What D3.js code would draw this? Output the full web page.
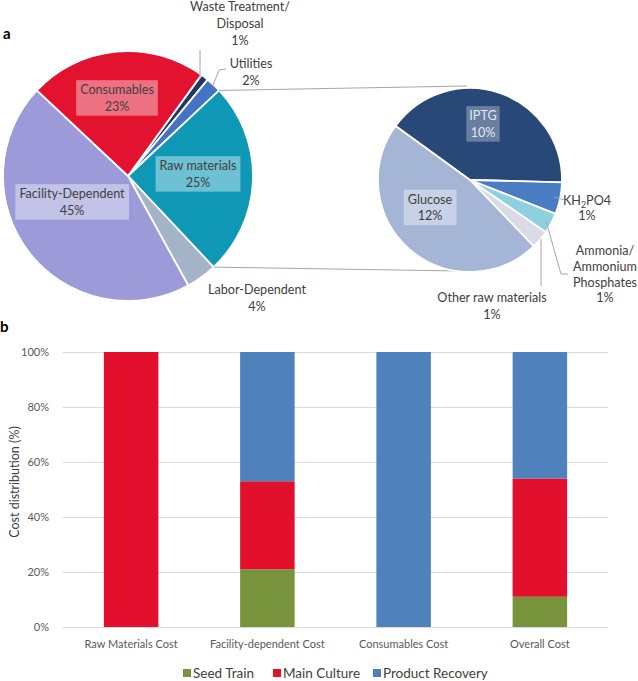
<!DOCTYPE html>
<html>
<head>
<meta charset="utf-8">
<script src="https://cdn.jsdelivr.net/npm/d3@7"></script>
<style>
  html, body { margin: 0; padding: 0; background: #fff; }
  svg { display: block; }
  text { font-family: Lato, "Open Sans", sans-serif; }
</style>
</head>
<body>
<svg id="chart" width="638" height="681"></svg>
<script>
// ---------- DATA ----------
// Panel a: main pie (clockwise order)
const pieCategories = ["Waste Treatment/Disposal", "Utilities", "Raw materials", "Labor-Dependent", "Facility-Dependent", "Consumables"];
const pieValues = [1, 2, 25, 4, 45, 23];
const pieColors = ["#203864", "#4472C4", "#0E98B5", "#A3B4C8", "#9C9AD8", "#E3132F"];

// Panel a: raw-materials breakdown pie (clockwise order, % of total cost)
const rawCategories = ["IPTG", "KH₂PO4", "Ammonia/Ammonium Phosphates", "Other raw materials", "Glucose"];
const rawValues = [10.1, 1.4, 0.9, 0.8, 11.8];
const rawColors = ["#284878", "#4A7CC4", "#8ED0E0", "#D9D9E8", "#A4B5D5"];

// Panel b: stacked bars
const barCategories = ["Raw Materials Cost", "Facility-dependent Cost", "Consumables Cost", "Overall Cost"];
const seriesNames = ["Seed Train", "Main Culture", "Product Recovery"];
const seedTrain = [0, 21, 0, 11];
const mainCulture = [100, 32, 0, 43];
const productRecovery = [0, 47, 100, 46];
const seriesColors = ["#77933C", "#E3102D", "#4F81BD"];
const yTicks = [0, 20, 40, 60, 80, 100];

// ---------- DRAW ----------
const svg = d3.select("#chart");
const txtColor = "#404040";
const lineColor = "#A6A6A6";
const LFS = 12.6;

// panel letters
svg.append("text").attr("x", 3).attr("y", 39).text("a")
  .attr("font-family", "Arial, Liberation Sans, sans-serif").attr("font-weight", "bold").attr("font-size", 15).attr("fill", "#000");
svg.append("text").attr("x", 0).attr("y", 332).text("b")
  .attr("font-family", "Arial, Liberation Sans, sans-serif").attr("font-weight", "bold").attr("font-size", 15).attr("fill", "#000");

// main pie
const deg = Math.PI / 180;
const mainC = [128, 176], mainR = 125;
const mainPie = d3.pie().sort(null).value(d => d)
  .startAngle(36 * deg).endAngle(396 * deg);
const mainArcs = mainPie(pieValues);
const mainArc = d3.arc().innerRadius(0).outerRadius(mainR);
const gMain = svg.append("g").attr("transform", `translate(${mainC})`);

// connector lines (pie-of-pie) from the raw materials slice edges
const rawC = [470, 180], rawR = 92;
const rawSlice = mainArcs[2];
const pOnArc = (c, r, a) => [c[0] + r * Math.sin(a), c[1] - r * Math.cos(a)];
const pA = pOnArc(mainC, mainR, rawSlice.startAngle);
const pB = pOnArc(mainC, mainR, rawSlice.endAngle);
svg.append("line").attr("x1", pA[0]).attr("y1", pA[1]).attr("x2", rawC[0] - 3).attr("y2", rawC[1] - rawR - 2)
  .attr("stroke", lineColor).attr("stroke-width", 1);
svg.append("line").attr("x1", pB[0]).attr("y1", pB[1]).attr("x2", rawC[0] - 10).attr("y2", rawC[1] + rawR - 1)
  .attr("stroke", lineColor).attr("stroke-width", 1);

gMain.selectAll("path").data(mainArcs).join("path")
  .attr("d", mainArc)
  .attr("fill", (d, i) => pieColors[i])
  .attr("stroke", "#fff").attr("stroke-width", 1.8).attr("stroke-linejoin", "round");

// raw pie
const rawPie = d3.pie().sort(null).value(d => d)
  .startAngle(-54 * deg).endAngle(306 * deg);
const rawArcs = rawPie(rawValues);
const rawArc = d3.arc().innerRadius(0).outerRadius(rawR);
const gRaw = svg.append("g").attr("transform", `translate(${rawC})`);
gRaw.selectAll("path").data(rawArcs).join("path")
  .attr("d", rawArc)
  .attr("fill", (d, i) => rawColors[i])
  .attr("stroke", "#fff").attr("stroke-width", 1.8).attr("stroke-linejoin", "round");

// label helper
function label(lines, x, y, opts = {}) {
  const fs = opts.fs || LFS, lh = opts.lh || 16.5;
  const g = svg.append("g");
  const t = g.append("text").attr("text-anchor", "middle").attr("font-size", fs)
    .attr("fill", opts.color || txtColor);
  const n = lines.length;
  lines.forEach((ln, i) => {
    const ts = t.append("tspan").attr("x", x).attr("y", y + (i - (n - 1) / 2) * lh).attr("dy", "0.35em");
    if (typeof ln === "string") ts.text(ln);
    else ln.forEach(part => {
      const s = ts.append("tspan").text(part.t);
      if (part.sub) s.attr("font-size", fs * 0.7).attr("dy", 3);
      if (part.after) s.attr("dy", -3);
    });
  });
  if (opts.box) {
    const bb = t.node().getBBox();
    g.insert("rect", "text")
      .attr("x", bb.x - (opts.px || 4)).attr("y", bb.y - 2)
      .attr("width", bb.width + 2 * (opts.px || 4)).attr("height", bb.height + 4)
      .attr("fill", "#fff").attr("fill-opacity", opts.op || 0.4);
  }
  return g;
}
const pct = v => Math.round(v) + "%";

// main pie labels
label([pieCategories[5], pct(pieValues[5])], 117, 98, { box: true, px: 4 });
label([pieCategories[2], pct(pieValues[2])], 198, 174, { box: true, px: 4 });
label([pieCategories[4], pct(pieValues[4])], 72, 202, { box: true, px: 4 });
label(["Waste Treatment/", "Disposal", pct(pieValues[0])], 240, 24, { lh: 17 });
label([pieCategories[1], pct(pieValues[1])], 251, 72, { lh: 17.5 });
label([pieCategories[3], pct(pieValues[3])], 257, 298.5, { lh: 17 });

// leader lines main pie
const leader = pts => svg.append("polyline").attr("points", pts.map(p => p.join(",")).join(" "))
  .attr("fill", "none").attr("stroke", lineColor).attr("stroke-width", 1);
const wMid = pOnArc(mainC, mainR - 2, (mainArcs[0].startAngle + mainArcs[0].endAngle) / 2);
leader([[200, 50], [200, wMid[1]]]);
const uMid = pOnArc(mainC, mainR - 1, (mainArcs[1].startAngle + mainArcs[1].endAngle) / 2);
leader([[226, 69], [219, 70], uMid]);

// raw pie labels
label([rawCategories[0], pct(rawValues[0])], 483, 124, { box: true, px: 3, op: 0.3, color: "#E4E9F2" });
label([rawCategories[4], pct(rawValues[4])], 430, 207.5, { box: true, px: 4, op: 0.4 });
label([[{ t: "KH" }, { t: "2", sub: true }, { t: "PO4", after: true }], pct(rawValues[1])], 587, 208, { lh: 15.5 });
label(["Ammonia/", "Ammonium", "Phosphates", pct(rawValues[2])], 605, 274.5, { lh: 15.7 });
label([rawCategories[3], pct(rawValues[3])], 492, 306, { lh: 17.5 });

// raw pie leaders
const kMid = pOnArc(rawC, rawR - 6, (rawArcs[1].startAngle + rawArcs[1].endAngle) / 2);
leader([kMid, [565, 200]]);
const aMid = pOnArc(rawC, rawR - 6, (rawArcs[2].startAngle + rawArcs[2].endAngle) / 2);
leader([aMid, [561, 274], [568, 274]]);
leader([[541, 239], [541, 286]]);

// ---------- Panel b ----------
const x = d3.scaleBand().domain(barCategories).range([63, 608]).paddingInner(0.6).paddingOuter(0.3);
const y = d3.scaleLinear().domain([0, 100]).range([627, 352]);

const gridG = svg.append("g");
gridG.selectAll("line").data(yTicks).join("line")
  .attr("x1", 63).attr("x2", 608)
  .attr("y1", d => Math.round(y(d)) + 0.5).attr("y2", d => Math.round(y(d)) + 0.5)
  .attr("stroke", "#D9D9D9").attr("stroke-width", 1);

const yAxis = d3.axisLeft(y).tickValues(yTicks).tickFormat(d => d + "%").tickSize(0).tickPadding(0);
const yAx = svg.append("g").attr("transform", "translate(49,0)").call(yAxis);
yAx.select(".domain").remove();
yAx.selectAll("text").attr("font-family", "Lato, sans-serif").attr("font-size", 11).attr("fill", "#595959");

const stackData = barCategories.map((c, i) => ({ cat: c, "Seed Train": seedTrain[i], "Main Culture": mainCulture[i], "Product Recovery": productRecovery[i] }));
const stacked = d3.stack().keys(seriesNames)(stackData);
svg.append("g").selectAll("g").data(stacked).join("g")
  .attr("fill", (d, i) => seriesColors[i])
  .selectAll("rect").data(d => d).join("rect")
  .attr("x", d => x(d.data.cat))
  .attr("width", x.bandwidth())
  .attr("y", d => y(d[1]))
  .attr("height", d => y(d[0]) - y(d[1]));

const xAxis = d3.axisBottom(x).tickSize(0).tickPadding(0);
const xAx = svg.append("g").attr("transform", "translate(0,640)").call(xAxis);
xAx.select(".domain").remove();
xAx.selectAll("text").attr("font-family", "Lato, sans-serif").attr("font-size", 11).attr("fill", "#595959");

svg.append("text").attr("transform", "translate(19,482) rotate(-90)")
  .attr("text-anchor", "middle").attr("font-size", 12.5).attr("fill", txtColor)
  .text("Cost distribution (%)");

// legend
const legendX = [183, 273, 373];
const lg = svg.append("g");
seriesNames.forEach((s, i) => {
  lg.append("rect").attr("x", legendX[i]).attr("y", 669).attr("width", 8).attr("height", 8).attr("fill", seriesColors[i]);
  lg.append("text").attr("x", legendX[i] + 10).attr("y", 673).attr("dy", "0.35em")
    .attr("font-size", 13.5).attr("fill", txtColor).text(s);
});
</script>
</body>
</html>
